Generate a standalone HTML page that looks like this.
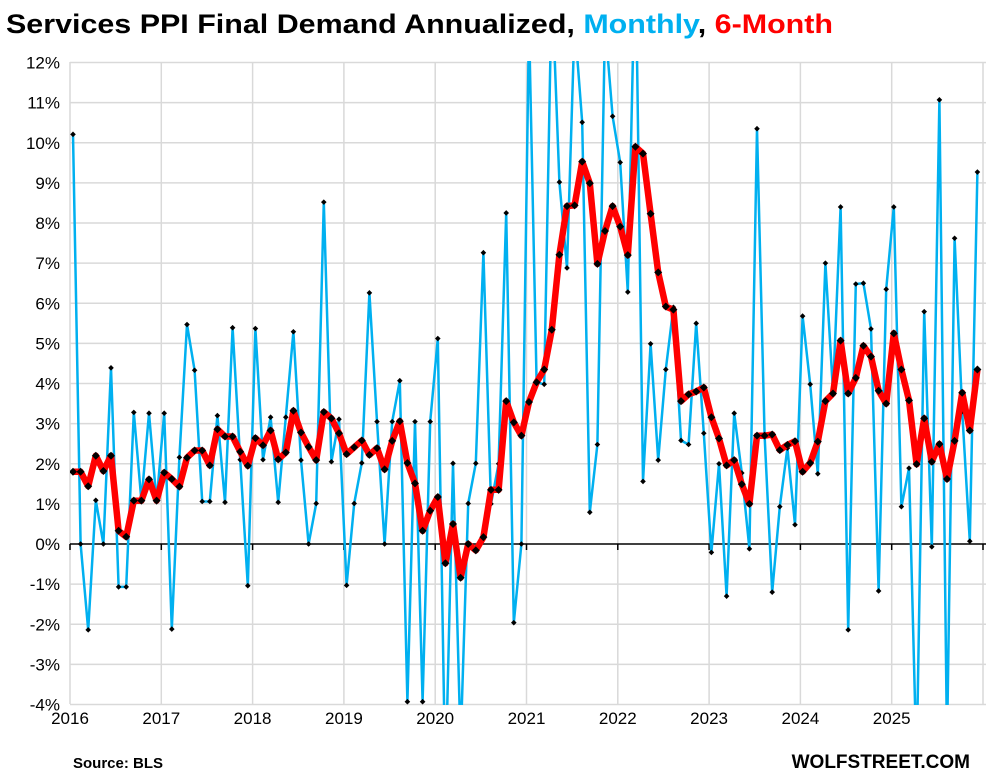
<!DOCTYPE html>
<html><head><meta charset="utf-8"><style>
body{margin:0;background:#fff;}
svg{display:block;font-family:"Liberation Sans",Arial,sans-serif;}
</style></head><body>
<svg id="chart" width="989" height="776" viewBox="0 0 989 776">
<text x="6" y="33" font-size="27" font-weight="bold" textLength="827" lengthAdjust="spacingAndGlyphs"><tspan fill="#000">Services PPI Final Demand Annualized, </tspan><tspan fill="#00b0f0"> Monthly</tspan><tspan fill="#000">, </tspan><tspan fill="#ff0000">6-Month</tspan></text>
<g id="grid"></g>
<g id="axes"></g>
<defs><clipPath id="plotclip"><rect x="70" y="61" width="917" height="644"/></clipPath></defs>
<g id="series" clip-path="url(#plotclip)"></g>
<text x="73" y="768" font-size="15" font-weight="bold">Source: BLS</text>
<text x="970" y="768" font-size="19" font-weight="bold" text-anchor="end">WOLFSTREET.COM</text>
</svg>
<script>
const yearLabels=["2016","2017","2018","2019","2020","2021","2022","2023","2024","2025"];
const yTicks=[12,11,10,9,8,7,6,5,4,3,2,1,0,-1,-2,-3,-4];
const monthly=[10.21,0,-2.14,1.09,0,4.39,-1.07,-1.07,3.28,1.08,3.26,1.06,
3.26,-2.12,2.16,5.47,4.33,1.06,1.06,3.2,1.04,5.39,2.1,-1.04,
5.37,2.1,3.16,1.04,3.16,5.29,2.09,0,1.01,8.52,2.05,3.11,
-1.03,1.01,2.02,6.26,3.05,0,3.05,4.07,-3.93,3.05,-3.93,3.05,
5.12,-6,2.01,-5,1.01,2.01,7.26,1.0,2.0,8.25,-1.96,0,
13,4.03,3.98,14,9.02,6.88,13,10.51,0.79,2.48,13,10.66,
9.51,6.28,15,1.56,4.99,2.09,4.35,5.9,2.58,2.48,5.5,2.76,
-0.21,2.0,-1.3,3.26,1.77,-0.12,10.35,2.7,-1.2,0.93,2.39,0.48,
5.68,3.98,1.75,7.0,3.8,8.4,-2.14,6.48,6.5,5.36,-1.17,6.35,
8.4,0.93,1.89,-5.5,5.79,-0.07,11.07,-5,7.62,3.3,0.07,9.27];
const sixMonth=[1.8,1.8,1.44,2.2,1.82,2.2,0.33,0.18,1.08,1.08,1.61,1.08,
1.78,1.62,1.43,2.15,2.33,2.33,1.96,2.86,2.68,2.68,2.3,1.95,
2.64,2.46,2.83,2.11,2.28,3.32,2.78,2.42,2.09,3.29,3.13,2.76,
2.24,2.41,2.58,2.22,2.39,1.86,2.57,3.06,2.02,1.51,0.33,0.83,
1.17,-0.48,0.5,-0.84,0.0,-0.16,0.17,1.35,1.35,3.56,3.03,2.7,
3.54,4.03,4.35,5.34,7.21,8.42,8.44,9.53,8.99,6.98,7.8,8.42,
7.91,7.2,9.9,9.73,8.23,6.77,5.92,5.84,3.56,3.73,3.8,3.9,
3.16,2.63,1.96,2.09,1.49,1.0,2.7,2.7,2.73,2.34,2.47,2.56,
1.8,2.02,2.55,3.56,3.75,5.07,3.75,4.14,4.94,4.67,3.82,3.5,
5.25,4.35,3.58,1.99,3.13,2.05,2.49,1.62,2.57,3.77,2.83,4.35];
const NS="http://www.w3.org/2000/svg";
function yS(v){return 544-v*40.125;}
function xYear(i){return 70+i*91.3;}
function xM(m){return 73+m*7.6;}
function mk(tag,attrs,parent){const e=document.createElementNS(NS,tag);for(const k in attrs)e.setAttribute(k,attrs[k]);parent.appendChild(e);return e;}
const grid=document.getElementById('grid'),axes=document.getElementById('axes'),ser=document.getElementById('series');
yTicks.forEach(v=>{
  if(v!==0){const l=mk('line',{x1:70,x2:986,y1:yS(v),y2:yS(v),stroke:'#d9d9d9','stroke-width':1.5},grid);
  
  }
  const t=mk('text',{x:60,y:yS(v)+6,'font-size':17,'text-anchor':'end'},axes);t.textContent=v+'%';
  
  
});
for(let i=0;i<=10;i++){
  const l=mk('line',{x1:xYear(i),x2:xYear(i),y1:62,y2:704,stroke:'#d9d9d9','stroke-width':1.5},grid);
  
  
  const tk=mk('line',{x1:xYear(i),x2:xYear(i),y1:544,y2:550,stroke:'#000','stroke-width':1.5},axes);
  
  
}
yearLabels.forEach((y,i)=>{const t=mk('text',{x:xYear(i),y:724,'font-size':17,'text-anchor':'middle'},axes);t.textContent=y;
  
  });
const zl=mk('line',{x1:70,x2:986,y1:544,y2:544,stroke:'#000','stroke-width':1.5},axes);


function drawSeries(arr,color,w,ms,name){
  const pts=arr.map((v,i)=>xM(i).toFixed(1)+','+yS(v).toFixed(1)).join(' ');
  const pl=mk('polyline',{points:pts,fill:'none',stroke:color,'stroke-width':w,'stroke-linejoin':'round'},ser);
  
  
  arr.forEach((v,i)=>{const x=xM(i),y=yS(v);
    const d=mk('polygon',{points:`${x},${y-ms} ${x+ms},${y} ${x},${y+ms} ${x-ms},${y}`,fill:'#000'},ser);
    
    });
}
drawSeries(monthly,'#00b0f0',2.5,2.8,'monthly');
drawSeries(sixMonth,'#ff0000',6.5,4,'six-month');
</script>
</body></html>
